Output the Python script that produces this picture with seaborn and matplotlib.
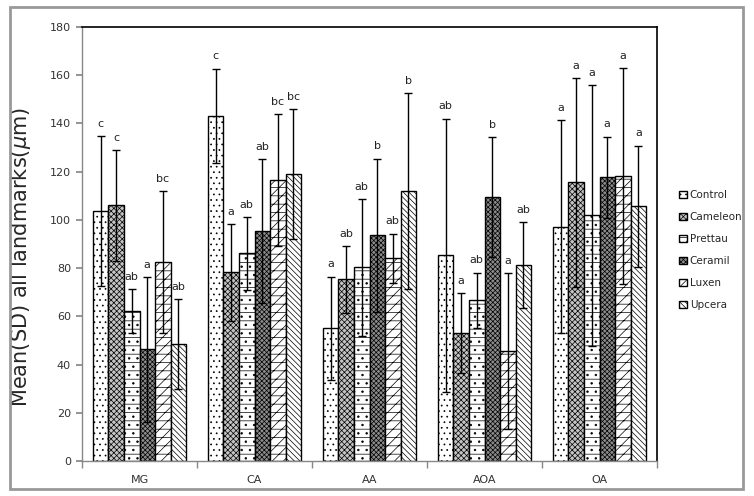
import matplotlib
matplotlib.use("Agg")
import matplotlib.pyplot as plt
import matplotlib.patches as mpatches
import seaborn as sns
import pandas as pd
import numpy as np

categories = ["MG", "CA", "AA", "AOA", "OA"]
materials = ["Control", "Cameleon", "Prettau", "Ceramil", "Luxen", "Upcera"]

control = [103.7, 143.1, 55.0, 85.4, 97.1]
cameleon = [106.0, 78.2, 75.3, 52.9, 115.6]
prettau = [62.2, 86.1, 80.3, 66.6, 101.9]
ceramil = [46.3, 95.4, 93.6, 109.4, 117.7]
luxen = [82.4, 116.5, 84.1, 45.5, 118.1]
upcera = [48.4, 118.9, 111.9, 81.2, 105.6]

sd_control = [31.0, 19.6, 21.5, 56.6, 44.2]
sd_cameleon = [23.0, 20.2, 13.9, 16.6, 43.3]
sd_prettau = [9.0, 15.0, 28.4, 11.5, 54.0]
sd_ceramil = [30.0, 29.7, 31.8, 24.9, 16.8]
sd_luxen = [29.5, 27.3, 10.2, 32.4, 44.8]
sd_upcera = [18.6, 26.9, 40.7, 17.8, 25.2]

lab_control = ["c", "c", "a", "ab", "a"]
lab_cameleon = ["c", "a", "ab", "a", "a"]
lab_prettau = ["ab", "ab", "ab", "ab", "a"]
lab_ceramil = ["a", "ab", "b", "b", "a"]
lab_luxen = ["bc", "bc", "ab", "a", "a"]
lab_upcera = ["ab", "bc", "b", "ab", "a"]

means = [control, cameleon, prettau, ceramil, luxen, upcera]
sds = [sd_control, sd_cameleon, sd_prettau, sd_ceramil, sd_luxen, sd_upcera]
labs = [lab_control, lab_cameleon, lab_prettau, lab_ceramil, lab_luxen, lab_upcera]

rows = []
for m, vals in zip(materials, means):
    for c, v in zip(categories, vals):
        rows.append({"cat": c, "mat": m, "val": v})
df = pd.DataFrame(rows)

sns.set_theme(style="white")
plt.rcParams['font.family'] = ['DejaVu Sans']
plt.rcParams['hatch.linewidth'] = 0.5

fig = plt.figure(figsize=(7.54, 4.96), dpi=100)
ax = fig.add_axes([82/754, 1-461/496, (657-82)/754, (461-27)/496])

pal = {"Control": "white", "Cameleon": "#c4c4c4", "Prettau": "white",
       "Ceramil": "#8c8c8c", "Luxen": "white", "Upcera": "white"}
sns.barplot(data=df, x="cat", y="val", hue="mat", order=categories,
            hue_order=materials, palette=pal, width=0.81, gap=0,
            errorbar=None, edgecolor="black", linewidth=1.0, ax=ax,
            legend=False, saturation=1)

hatches = ["...", "xxxxxx", "--..", "xxxxxxx", "///--", "\\\\\\\\\\\\"]
bar_containers = list(ax.containers)
for ci, cont in enumerate(bar_containers):
    for bi, bar in enumerate(cont.patches):
        bar.set_hatch(hatches[ci])
        bar.set_edgecolor("black")
        x = bar.get_x() + bar.get_width() / 2
        h = bar.get_height()
        s = sds[ci][bi]
        ax.errorbar(x, h, yerr=s, color="black", elinewidth=1.0,
                    capsize=3, capthick=1.0, fmt="none", zorder=5)
        ax.text(x, h + s + 3, labs[ci][bi], ha="center", va="bottom",
                fontsize=8, color="#222222")

ax.set_ylim(0, 180)
ax.set_yticks(np.arange(0, 181, 20))
ax.set_xlim(-0.5, 4.5)
ax.set_xlabel("")
ax.set_ylabel("Mean(SD) all landmarks($\\mathit{\\mu}$m)", fontsize=15)
ax.yaxis.set_label_coords((33 - 82) / 575, 0.47)
ax.tick_params(axis="y", labelsize=8, length=4, color="#888888",
               labelcolor="#333333", direction="out", left=True, pad=4)
ax.tick_params(axis="x", labelsize=8, length=0, pad=10, labelcolor="#333333")
ax.set_xticks(range(len(categories)))
ax.set_xticklabels(categories)
ax.set_xticks(np.arange(-0.5, 5.0, 1.0), minor=True)
ax.tick_params(axis="x", which="minor", length=5, color="#888888",
               direction="out", bottom=True)

for side in ["top", "right"]:
    ax.spines[side].set_color("black")
    ax.spines[side].set_linewidth(1.2)
for side in ["left", "bottom"]:
    ax.spines[side].set_color("#888888")
    ax.spines[side].set_linewidth(1.0)

handles = [mpatches.Patch(facecolor=pal[m], edgecolor="black",
                          hatch=h, label=m) for m, h in zip(materials, hatches)]
fig.legend(handles=handles, loc="upper left",
           bbox_to_anchor=(670/754, 1-181/496), frameon=False,
           fontsize=7.5, handlelength=0.7, handleheight=0.7,
           handletextpad=0.3, labelspacing=1.15)

border = mpatches.Rectangle((10/754, 1-489/496), (743-10)/754, (489-7)/496,
                            transform=fig.transFigure, fill=False,
                            edgecolor="#999999", linewidth=2.0)
fig.patches.append(border)

fig.savefig("out.png", dpi=100)
